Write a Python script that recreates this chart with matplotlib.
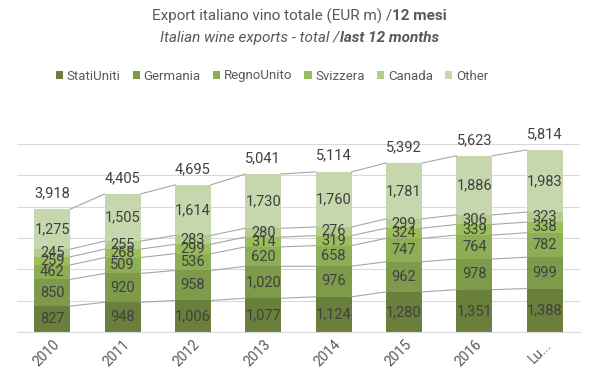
import matplotlib
matplotlib.use("Agg")
import matplotlib.pyplot as plt
import numpy as np
from matplotlib.offsetbox import TextArea, HPacker, AnchoredOffsetbox
from matplotlib.patches import Patch

categories = ["2010", "2011", "2012", "2013", "2014", "2015", "2016", "Lu..."]
series_names = ["StatiUniti", "Germania", "RegnoUnito", "Svizzera", "Canada", "Other"]
stati_uniti = [827, 948, 1006, 1077, 1124, 1280, 1351, 1388]
germania = [850, 920, 958, 1020, 976, 962, 978, 999]
regno_unito = [462, 509, 536, 620, 658, 747, 764, 782]
svizzera = [259, 268, 299, 314, 319, 324, 339, 338]
canada = [245, 255, 283, 280, 276, 299, 306, 323]
other = [1275, 1505, 1614, 1730, 1760, 1781, 1886, 1983]
totals = [3918, 4405, 4695, 5041, 5114, 5392, 5623, 5814]

colors = ["#6a7f3b", "#7e9a4b", "#8ead57", "#9bbd5b", "#b3cb8e", "#c6d7ae"]
FONT = "Roboto"
TXT = "#404040"

fig = plt.figure(figsize=(5.99, 3.78), dpi=100)
ax = fig.add_axes([17/599, 46/378, 563/599, 188/378])

data = [stati_uniti, germania, regno_unito, svizzera, canada, other]
x = np.arange(len(categories))
w = 0.51
bottom = np.zeros(len(categories))
tops = []
for vals, col, name in zip(data, colors, series_names):
    vals = np.array(vals, dtype=float)
    ax.bar(x, vals, w, bottom=bottom, color=col, label=name, zorder=2)
    for xi, b, v in zip(x, bottom, vals):
        ax.text(xi, b + v / 2, f"{int(v):,}", ha="center", va="center",
                fontsize=10.5, color=TXT, family=FONT, zorder=4)
    bottom = bottom + vals
    tops.append(bottom.copy())

# series lines
for t in tops:
    for i in range(len(categories) - 1):
        ax.plot([x[i] + w / 2, x[i + 1] - w / 2], [t[i], t[i + 1]],
                color="#a6a6a6", lw=0.8, zorder=3)

for xi, tot in zip(x, totals):
    ax.annotate(f"{tot:,}", (xi, tot), xytext=(0, 11.5), textcoords="offset points",
                ha="center", va="center", fontsize=10.5, color=TXT, family=FONT,
                annotation_clip=False)

ax.set_xlim(-0.5, len(categories) - 0.5)
ax.set_ylim(0, 6000)
ax.set_yticks(np.arange(0, 6001, 1000))
ax.yaxis.grid(True, color="#d9d9d9", lw=0.8, zorder=0)
ax.set_axisbelow(True)
ax.tick_params(axis="y", left=False, labelleft=False)
ax.tick_params(axis="x", length=0, pad=4)
ax.set_xticks(x)
ax.set_xticklabels(categories, rotation=45, ha="right", rotation_mode="anchor",
                   fontsize=10, color="#595959", family=FONT)
for s in ["top", "left", "right"]:
    ax.spines[s].set_visible(False)
ax.spines["bottom"].set_color("#d9d9d9")

# title with mixed weights
def title_line(parts, y, style):
    boxes = [TextArea(t, textprops=dict(fontsize=11, color="#595959", family=FONT,
                                        fontweight=wt, fontstyle=style))
             for t, wt in parts]
    pk = HPacker(children=boxes, pad=0, sep=0, align="baseline")
    ab = AnchoredOffsetbox(loc="center", child=pk, frameon=False,
                           bbox_to_anchor=(0.5, y), bbox_transform=fig.transFigure,
                           borderpad=0, pad=0)
    fig.add_artist(ab)

title_line([("Export italiano vino totale (EUR m) /", "normal"), ("12 mesi", "bold")],
           1 - 16/378, "normal")
title_line([("Italian wine exports - total /", "normal"), ("last 12 months", "bold")],
           1 - 38/378, "italic")

handles = [Patch(facecolor=c, edgecolor="none") for c in colors]
fig.legend(handles, series_names, loc="center", bbox_to_anchor=(272/599, 1 - 76/378),
           ncol=6, frameon=False, handlelength=0.55, handleheight=0.55,
           handletextpad=0.3, columnspacing=0.9,
           prop=dict(family=FONT, size=9.5), labelcolor="#595959")

fig.savefig("out.png", dpi=100)
